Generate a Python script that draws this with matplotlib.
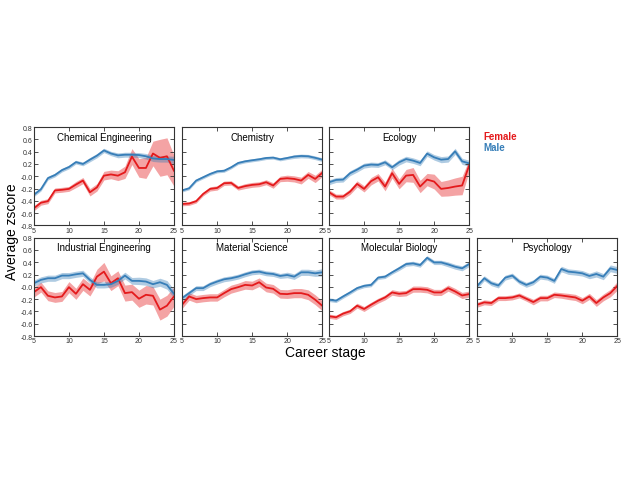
import numpy as np
import matplotlib
matplotlib.use("Agg")
import matplotlib.pyplot as plt

plt.rcParams["font.family"] = ["Liberation Sans", "DejaVu Sans"]

# career stage (years)
stage = np.arange(5, 26)

fields = ["Chemical Engineering", "Chemistry", "Ecology",
          "Industrial Engineering", "Material Science", "Molecular Biology", "Psychology"]

male = {
    "Chemical Engineering": [-0.30, -0.21, -0.03, 0.02, 0.10, 0.15, 0.23, 0.20, 0.27, 0.335, 0.42,
                             0.37, 0.34, 0.35, 0.35, 0.345, 0.325, 0.29, 0.28, 0.28, 0.265],
    "Chemistry": [-0.23, -0.195, -0.07, -0.016, 0.038, 0.08, 0.09, 0.146, 0.216, 0.243, 0.26,
                  0.276, 0.297, 0.303, 0.276, 0.297, 0.32, 0.33, 0.325, 0.30, 0.27],
    "Ecology": [-0.097, -0.06, -0.054, 0.05, 0.108, 0.173, 0.19, 0.184, 0.227, 0.146, 0.227,
                0.28, 0.254, 0.216, 0.368, 0.308, 0.27, 0.28, 0.405, 0.243, 0.21],
    "Industrial Engineering": [0.059, 0.113, 0.14, 0.14, 0.183, 0.183, 0.204, 0.22, 0.113, 0.032, 0.032,
                               0.043, 0.097, 0.183, 0.097, 0.097, 0.086, 0.043, 0.075, 0.032, -0.113],
    "Material Science": [-0.183, -0.102, -0.021, -0.021, 0.043, 0.086, 0.123, 0.14, 0.166, 0.204, 0.236,
                         0.247, 0.22, 0.209, 0.177, 0.193, 0.166, 0.236, 0.236, 0.22, 0.236],
    "Molecular Biology": [-0.209, -0.225, -0.156, -0.091, -0.021, 0.016, 0.032, 0.15, 0.166, 0.236, 0.301,
                          0.37, 0.381, 0.354, 0.472, 0.397, 0.397, 0.365, 0.327, 0.301, 0.37],
    "Psychology": [0.016, 0.14, 0.059, 0.022, 0.15, 0.183, 0.086, 0.032, 0.075, 0.166, 0.15,
                   0.097, 0.29, 0.247, 0.236, 0.22, 0.177, 0.209, 0.166, 0.301, 0.274],
}

female = {
    "Chemical Engineering": [-0.52, -0.43, -0.405, -0.23, -0.22, -0.205, -0.135, -0.07, -0.26, -0.18, 0.01,
                             0.03, 0.01, 0.065, 0.32, 0.135, 0.135, 0.37, 0.30, 0.325, 0.09],
    "Chemistry": [-0.45, -0.443, -0.405, -0.287, -0.205, -0.19, -0.113, -0.108, -0.19, -0.16, -0.14,
                  -0.13, -0.097, -0.15, -0.043, -0.032, -0.043, -0.07, 0.022, -0.043, 0.054],
    "Ecology": [-0.26, -0.33, -0.33, -0.25, -0.124, -0.205, -0.08, -0.016, -0.167, 0.05, -0.124,
                0.011, 0.022, -0.167, -0.054, -0.086, -0.205, -0.19, -0.167, -0.15, 0.173],
    "Industrial Engineering": [-0.086, -0.005, -0.145, -0.172, -0.156, -0.005, -0.113, 0.043, -0.048, 0.166, 0.247,
                               0.059, 0.14, -0.102, -0.086, -0.193, -0.129, -0.145, -0.37, -0.306, -0.156],
    "Material Science": [-0.29, -0.156, -0.199, -0.183, -0.172, -0.172, -0.102, -0.037, -0.005, 0.032, 0.022,
                         0.075, -0.011, -0.032, -0.113, -0.118, -0.102, -0.102, -0.129, -0.209, -0.306],
    "Molecular Biology": [-0.478, -0.494, -0.435, -0.397, -0.306, -0.36, -0.29, -0.225, -0.172, -0.091, -0.113,
                          -0.102, -0.037, -0.037, -0.048, -0.091, -0.091, -0.021, -0.075, -0.14, -0.118],
    "Psychology": [-0.29, -0.252, -0.263, -0.183, -0.183, -0.172, -0.14, -0.193, -0.247, -0.183, -0.183,
                   -0.129, -0.14, -0.156, -0.172, -0.225, -0.156, -0.263, -0.172, -0.102, 0.016],
}

# half-width of the shaded bands
male_err = {
    "Chemical Engineering": [0.03, 0.03, 0.03, 0.03, 0.03, 0.03, 0.03, 0.03, 0.035, 0.035, 0.035,
                             0.035, 0.04, 0.04, 0.04, 0.04, 0.045, 0.05, 0.05, 0.05, 0.06],
    "Chemistry": [0.025, 0.025, 0.025, 0.025, 0.025, 0.025, 0.025, 0.025, 0.025, 0.025, 0.025,
                  0.025, 0.025, 0.025, 0.025, 0.025, 0.03, 0.03, 0.03, 0.03, 0.03],
    "Ecology": [0.04, 0.04, 0.04, 0.04, 0.04, 0.04, 0.04, 0.04, 0.04, 0.04, 0.045,
                0.045, 0.045, 0.045, 0.045, 0.045, 0.05, 0.05, 0.05, 0.05, 0.05],
    "Industrial Engineering": [0.05, 0.05, 0.05, 0.05, 0.05, 0.05, 0.05, 0.05, 0.05, 0.05, 0.05,
                               0.05, 0.055, 0.055, 0.055, 0.06, 0.06, 0.06, 0.065, 0.07, 0.07],
    "Material Science": [0.04, 0.04, 0.04, 0.04, 0.04, 0.04, 0.04, 0.04, 0.04, 0.04, 0.04,
                         0.04, 0.04, 0.04, 0.04, 0.045, 0.045, 0.05, 0.05, 0.05, 0.06],
    "Molecular Biology": [0.03, 0.03, 0.03, 0.03, 0.03, 0.03, 0.03, 0.03, 0.03, 0.03, 0.035,
                          0.035, 0.035, 0.035, 0.035, 0.035, 0.035, 0.04, 0.04, 0.04, 0.04],
    "Psychology": [0.04, 0.04, 0.04, 0.04, 0.04, 0.04, 0.04, 0.04, 0.04, 0.04, 0.04,
                   0.04, 0.045, 0.045, 0.045, 0.045, 0.045, 0.05, 0.05, 0.055, 0.055],
}

female_err = {
    "Chemical Engineering": [0.04, 0.04, 0.04, 0.04, 0.04, 0.04, 0.05, 0.05, 0.06, 0.06, 0.07,
                             0.07, 0.08, 0.10, 0.13, 0.15, 0.17, 0.20, 0.30, 0.30, 0.25],
    "Chemistry": [0.03, 0.03, 0.03, 0.03, 0.035, 0.035, 0.035, 0.035, 0.035, 0.04, 0.04,
                  0.04, 0.04, 0.045, 0.045, 0.05, 0.05, 0.055, 0.055, 0.06, 0.06],
    "Ecology": [0.04, 0.04, 0.04, 0.045, 0.05, 0.05, 0.06, 0.06, 0.07, 0.08, 0.08,
                0.10, 0.12, 0.10, 0.10, 0.12, 0.12, 0.13, 0.14, 0.15, 0.10],
    "Industrial Engineering": [0.08, 0.08, 0.08, 0.08, 0.08, 0.09, 0.09, 0.10, 0.10, 0.12, 0.15,
                               0.12, 0.12, 0.13, 0.13, 0.14, 0.15, 0.15, 0.17, 0.17, 0.16],
    "Material Science": [0.06, 0.06, 0.06, 0.06, 0.06, 0.06, 0.06, 0.065, 0.065, 0.07, 0.07,
                         0.07, 0.07, 0.07, 0.07, 0.07, 0.075, 0.075, 0.08, 0.08, 0.08],
    "Molecular Biology": [0.035, 0.035, 0.035, 0.035, 0.04, 0.04, 0.04, 0.04, 0.04, 0.045, 0.045,
                          0.045, 0.05, 0.05, 0.05, 0.05, 0.05, 0.05, 0.05, 0.05, 0.05],
    "Psychology": [0.04, 0.04, 0.04, 0.04, 0.04, 0.04, 0.04, 0.04, 0.045, 0.045, 0.045,
                   0.045, 0.045, 0.05, 0.05, 0.05, 0.05, 0.055, 0.055, 0.06, 0.07],
}

RED = "#e41a1c"
BLUE = "#377eb8"

fig = plt.figure(figsize=(6.28, 4.85), dpi=100)

lefts = [0.054, 0.290, 0.524, 0.760]
width = 0.223
bottoms = [0.533, 0.305]
height = 0.203
slots = [(0, 0), (0, 1), (0, 2), (1, 0), (1, 1), (1, 2), (1, 3)]

for name, (r, c) in zip(fields, slots):
    ax = fig.add_axes([lefts[c], bottoms[r], width, height])
    m = np.array(male[name])
    f = np.array(female[name])
    me = np.array(male_err[name])
    fe = np.array(female_err[name])
    ax.fill_between(stage, f - fe, f + fe, color=RED, alpha=0.4, lw=0)
    ax.fill_between(stage, m - me, m + me, color=BLUE, alpha=0.4, lw=0)
    ax.plot(stage, f, color=RED, lw=1.3)
    ax.plot(stage, m, color=BLUE, lw=1.3)
    ax.set_xlim(5, 25)
    ax.set_ylim(-0.8, 0.8)
    ax.set_xticks([5, 10, 15, 20, 25])
    ax.set_yticks(np.arange(-0.8, 0.81, 0.2))
    ax.tick_params(direction="in", top=True, right=True, length=3, width=0.6,
                   labelsize=5, pad=1, colors="#333333")
    if c == 0:
        ax.set_yticklabels(["%.1f" % v for v in np.arange(-0.8, 0.81, 0.2)])
    else:
        ax.set_yticklabels([])
    for s in ax.spines.values():
        s.set_linewidth(0.8)
        s.set_color("#333333")
    ax.text(0.5, 0.9, name, transform=ax.transAxes, ha="center", va="center", fontsize=7)

fig.text(483 / 628, 1 - 137 / 485, "Female", color=RED, fontsize=7, fontweight="bold", va="center")
fig.text(483 / 628, 1 - 148 / 485, "Male", color=BLUE, fontsize=7, fontweight="bold", va="center")

fig.text(12 / 628, 1 - 232 / 485, "Average zscore", rotation=90, ha="center", va="center", fontsize=10)
fig.text(325 / 628, 1 - 353 / 485, "Career stage", ha="center", va="center", fontsize=10)

fig.savefig("out.png", dpi=100)
